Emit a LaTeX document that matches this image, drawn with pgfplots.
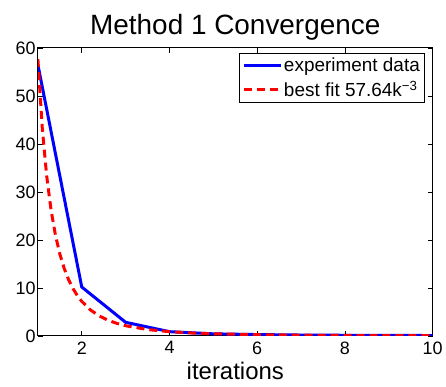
\documentclass[border=0pt]{standalone}
\usepackage{fontspec}
\setmainfont{Liberation Sans}
\usepackage{pgfplots}
\pgfplotsset{compat=1.18}
\begin{document}
\begin{tikzpicture}
\begin{axis}[
  scale only axis,
  width=396pt, height=289pt,
  xmin=1, xmax=10, ymin=0, ymax=60,
  xtick={2,4,6,8,10}, ytick={0,10,20,30,40,50,60},
  tick align=inside,
  major tick length=5pt,
  tick style={black, line width=0.6pt},
  axis line style={line width=1pt},
  /pgf/number format/assume math mode=true,
  ticklabel style={font=\fontsize{18}{21}\selectfont},
  yticklabel style={inner sep=1pt, xshift=-1pt},
  xticklabel style={yshift=-2pt},
  xlabel={iterations},
  xlabel style={font=\fontsize{24}{26}\selectfont, yshift=-1pt},
  title={Method 1 Convergence},
  title style={font=\fontsize{28}{30}\selectfont, yshift=-2pt},
  legend style={at={(1,1)}, xshift=-8pt, yshift=-5pt, anchor=north east,
    font=\fontsize{19}{22}\selectfont,
    draw=black, line width=0.8pt, inner sep=2.5pt, row sep=4pt,
    cells={anchor=west}},
  legend image code/.code={\draw[#1, line width=3pt] (0pt,0pt) -- (37pt,0pt);},
  legend cell align=left,
]
\addplot[blue, line width=3pt] coordinates {
(1,56.5) (2,10.2) (3,2.85) (4,0.9) (5,0.45) (6,0.3) (7,0.2) (8,0.15) (9,0.12) (10,0.1)};
\addlegendentry{experiment data}
\addplot[red, line width=3pt, dash pattern=on 8pt off 5pt] coordinates {
(1,57.64) (1.1,43.31) (1.2,33.36) (1.3,26.24) (1.4,21.01) (1.5,17.08) (1.6,14.07)
(1.7,11.73) (1.8,9.88) (1.9,8.40) (2,7.205) (2.2,5.413) (2.4,4.170) (2.6,3.279)
(2.8,2.626) (3,2.135) (3.5,1.344) (4,0.901) (4.5,0.633) (5,0.461) (6,0.267)
(7,0.168) (8,0.113) (9,0.079) (10,0.058)};
\addlegendentry{best fit 57.64k\textsuperscript{−3}}
\end{axis}
\path (current axis.south west) ++(-38pt,-51pt) coordinate (bbA);
\path (current axis.north east) ++(12pt,48pt) coordinate (bbB);
\useasboundingbox (bbA) rectangle (bbB);
\end{tikzpicture}
\end{document}
